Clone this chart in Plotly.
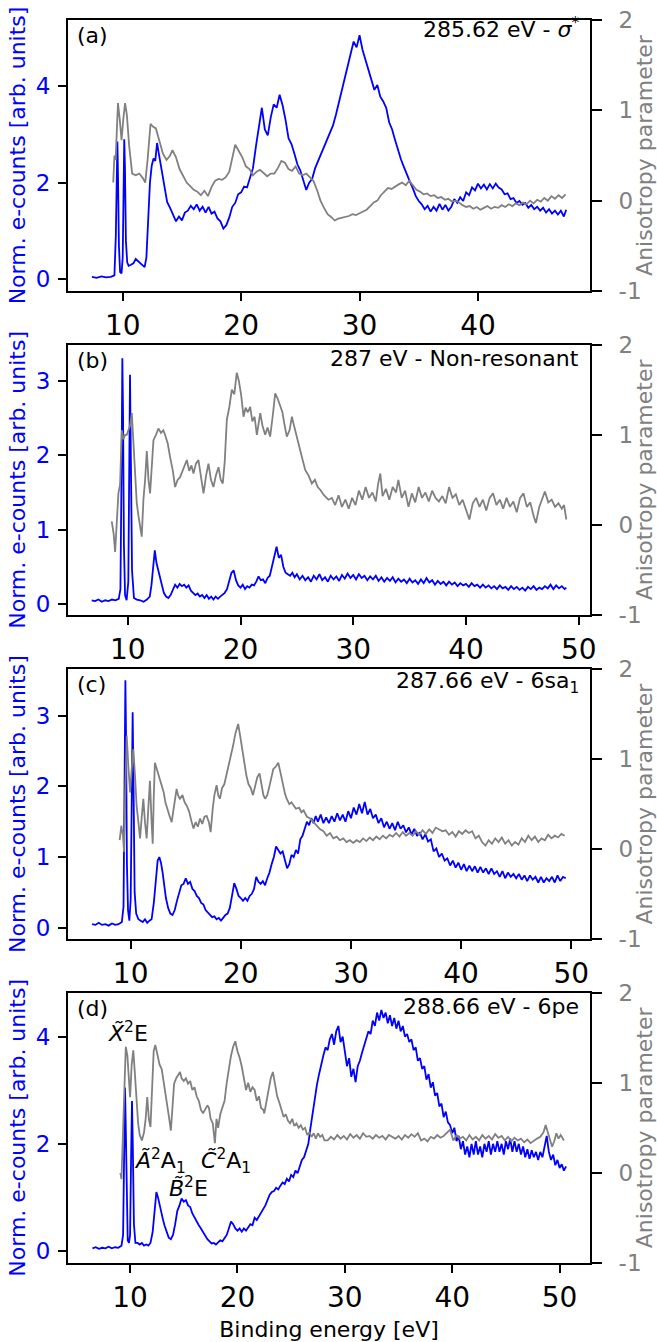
import plotly.graph_objects as go

# ---------------- data ----------------
# Panel (a) 285.62 eV
BA_X = [7.4, 7.8, 8.2, 8.6, 9.0, 9.3, 9.42, 9.5, 9.55, 9.6,
        9.68, 9.78, 9.9, 10.0, 10.07, 10.13, 10.19, 10.27, 10.38, 10.5,
        10.7, 10.9, 11.1, 11.3, 11.5, 11.7, 11.85, 12.0, 12.15, 12.3,
        12.45, 12.6, 12.75, 12.9, 13.05, 13.2, 13.35, 13.5, 13.75, 14.0,
        14.25, 14.5, 14.75, 15.0, 15.25, 15.5, 15.75, 16.0, 16.25, 16.5,
        16.75, 17.0, 17.25, 17.5, 17.75, 18.0, 18.25, 18.5, 18.75, 19.0,
        19.25, 19.5, 19.75, 20.0, 20.25, 20.5, 20.75, 21.0, 21.25, 21.5,
        21.75, 22.0, 22.25, 22.5, 22.75, 23.0, 23.25, 23.5, 23.75, 24.0,
        24.25, 24.5, 24.75, 25.0, 25.25, 25.5, 25.75, 26.0, 26.25, 26.5,
        26.75, 27.0, 27.25, 27.5, 27.75, 28.0, 28.25, 28.5, 28.75, 29.0,
        29.25, 29.5, 29.75, 30.0, 30.25, 30.5, 30.75, 31.0, 31.25, 31.5,
        31.75, 32.0, 32.25, 32.5, 32.75, 33.0, 33.25, 33.5, 33.75, 34.0,
        34.25, 34.5, 34.75, 35.0, 35.25, 35.5, 35.75, 36.0, 36.25, 36.5,
        36.75, 37.0, 37.25, 37.5, 37.75, 38.0, 38.25, 38.5, 38.75, 39.0,
        39.25, 39.5, 39.75, 40.0, 40.25, 40.5, 40.75, 41.0, 41.25, 41.5,
        41.75, 42.0, 42.25, 42.5, 42.75, 43.0, 43.25, 43.5, 43.75, 44.0,
        44.25, 44.5, 44.75, 45.0, 45.25, 45.5, 45.75, 46.0, 46.25, 46.5,
        46.75, 47.0, 47.25, 47.45]
BA_Y = [0.05, 0.03, 0.06, 0.04, 0.05, 0.08, 0.9, 2.4, 2.85, 2.2,
        0.7, 0.15, 0.12, 0.45, 2.2, 2.9, 2.3, 0.8, 0.35, 0.28,
        0.3, 0.33, 0.42, 0.37, 0.32, 0.28, 0.25, 0.45, 1.3, 2.0,
        2.35, 2.5, 2.45, 2.82, 2.6, 2.4, 2.2, 1.95, 1.6, 1.48,
        1.32, 1.2, 1.3, 1.22, 1.38, 1.42, 1.52, 1.45, 1.55, 1.42,
        1.5, 1.38, 1.5, 1.36, 1.4, 1.26, 1.2, 1.05, 1.12, 1.28,
        1.5, 1.58, 1.76, 1.8, 1.92, 1.9, 2.1, 2.3, 2.75, 3.2,
        3.55, 3.1, 2.98, 3.35, 3.62, 3.55, 3.82, 3.6, 3.3, 2.92,
        2.8, 2.6, 2.38, 2.25, 2.05, 1.85, 2.0, 2.08, 2.3, 2.45,
        2.6, 2.72, 2.9, 3.05, 3.18, 3.4, 3.65, 3.9, 4.2, 4.45,
        4.7, 4.92, 4.8, 5.05, 4.75, 4.55, 4.3, 4.1, 3.92, 4.02,
        3.78, 3.68, 3.55, 3.25, 3.1, 2.88, 2.65, 2.48, 2.32, 2.15,
        2.02, 1.88, 1.72, 1.62, 1.55, 1.45, 1.52, 1.4, 1.5, 1.42,
        1.56, 1.44, 1.54, 1.42, 1.5, 1.66, 1.58, 1.7, 1.62, 1.8,
        1.74, 1.9, 1.84, 1.98, 1.88, 1.96, 1.86, 1.97, 1.88, 1.98,
        1.9, 1.86, 1.76, 1.78, 1.66, 1.68, 1.58, 1.62, 1.54, 1.58,
        1.48, 1.54, 1.45, 1.5, 1.42, 1.48, 1.38, 1.45, 1.36, 1.42,
        1.34, 1.42, 1.3, 1.44]
GA_X = [9.2, 9.3, 9.4, 9.5, 9.6, 9.75, 9.9, 10.05, 10.2, 10.35,
        10.55, 10.8, 11.1, 11.4, 11.7, 11.9, 12.1, 12.35, 12.55, 12.8,
        13.1, 13.4, 13.7, 14.0, 14.2, 14.5, 14.8, 15.1, 15.4, 15.7,
        16.0, 16.3, 16.6, 16.9, 17.2, 17.5, 17.8, 18.1, 18.4, 18.7,
        19.0, 19.3, 19.5, 19.8, 20.1, 20.4, 20.7, 21.0, 21.3, 21.6,
        21.9, 22.2, 22.5, 22.8, 23.1, 23.4, 23.7, 24.0, 24.3, 24.6,
        24.9, 25.2, 25.5, 25.8, 26.1, 26.4, 26.7, 27.0, 27.3, 27.6,
        27.9, 28.2, 28.5, 28.8, 29.1, 29.4, 29.7, 30.0, 30.3, 30.6,
        30.9, 31.2, 31.5, 31.8, 32.1, 32.4, 32.7, 33.0, 33.3, 33.6,
        33.9, 34.2, 34.5, 34.8, 35.1, 35.4, 35.7, 36.0, 36.3, 36.6,
        36.9, 37.2, 37.5, 37.8, 38.1, 38.4, 38.7, 39.0, 39.3, 39.6,
        39.9, 40.2, 40.5, 40.8, 41.1, 41.4, 41.7, 42.0, 42.3, 42.6,
        42.9, 43.2, 43.5, 43.8, 44.1, 44.4, 44.7, 45.0, 45.3, 45.6,
        45.9, 46.2, 46.5, 46.8, 47.1, 47.4]
GA_Y = [0.2, 0.5, 0.45, 0.9, 1.08, 0.9, 0.67, 0.9, 1.08, 0.95,
        0.6, 0.3, 0.28, 0.3, 0.25, 0.2, 0.45, 0.85, 0.82, 0.8,
        0.65, 0.52, 0.45, 0.5, 0.56, 0.48, 0.35, 0.27, 0.2, 0.16,
        0.12, 0.1, 0.06, 0.11, 0.05, 0.15, 0.22, 0.24, 0.23, 0.26,
        0.32, 0.5, 0.62, 0.55, 0.48, 0.38, 0.35, 0.28, 0.32, 0.34,
        0.3, 0.27, 0.3, 0.3, 0.36, 0.44, 0.42, 0.35, 0.33, 0.38,
        0.3, 0.28, 0.3, 0.26, 0.22, 0.12, 0.0, -0.08, -0.15, -0.18,
        -0.22, -0.2, -0.19, -0.18, -0.17, -0.15, -0.16, -0.14, -0.12, -0.1,
        -0.06, -0.02, 0.0, 0.06, 0.1, 0.14, 0.13, 0.16, 0.18, 0.2,
        0.17, 0.22, 0.17, 0.12, 0.1, 0.07, 0.08, 0.05, 0.06, 0.03,
        0.04, 0.01, 0.02, -0.01, 0.0, -0.02, -0.05, -0.07, -0.06, -0.09,
        -0.07, -0.1, -0.08, -0.06, -0.09, -0.07, -0.08, -0.05, -0.07, -0.04,
        -0.06, -0.03, -0.05, -0.02, -0.04, 0.0, -0.03, 0.01, -0.01, 0.03,
        0.0, 0.05, 0.02, 0.06, 0.03, 0.07]

# Panel (b) 287 eV
BB_X = [6.8, 7.1, 7.4, 7.7, 8.0, 8.3, 8.6, 8.9, 9.2, 9.35,
        9.45, 9.52, 9.58, 9.66, 9.76, 9.9, 10.05, 10.13, 10.2, 10.28,
        10.38, 10.55, 10.8, 11.1, 11.4, 11.7, 11.95, 12.1, 12.25, 12.4,
        12.55, 12.7, 12.85, 13.0, 13.2, 13.4, 13.6, 13.8, 14.0, 14.2,
        14.4, 14.6, 14.8, 15.0, 15.2, 15.4, 15.6, 15.8, 16.0, 16.2,
        16.4, 16.6, 16.8, 17.0, 17.2, 17.4, 17.6, 17.8, 18.0, 18.2,
        18.4, 18.6, 18.8, 19.0, 19.2, 19.4, 19.6, 19.8, 20.0, 20.2,
        20.4, 20.6, 20.8, 21.0, 21.2, 21.4, 21.6, 21.8, 22.0, 22.2,
        22.4, 22.6, 22.8, 23.0, 23.2, 23.4, 23.6, 23.8, 24.0, 24.2,
        24.4, 24.6, 24.8, 25.0, 25.25, 25.5, 25.75, 26.0, 26.25, 26.5,
        26.75, 27.0, 27.25, 27.5, 27.75, 28.0, 28.25, 28.5, 28.75, 29.0,
        29.25, 29.5, 29.75, 30.0, 30.25, 30.5, 30.75, 31.0, 31.25, 31.5,
        31.75, 32.0, 32.25, 32.5, 32.75, 33.0, 33.25, 33.5, 33.75, 34.0,
        34.25, 34.5, 34.75, 35.0, 35.25, 35.5, 35.75, 36.0, 36.25, 36.5,
        36.75, 37.0, 37.25, 37.5, 37.75, 38.0, 38.25, 38.5, 38.75, 39.0,
        39.25, 39.5, 39.75, 40.0, 40.25, 40.5, 40.75, 41.0, 41.25, 41.5,
        41.75, 42.0, 42.25, 42.5, 42.75, 43.0, 43.25, 43.5, 43.75, 44.0,
        44.25, 44.5, 44.75, 45.0, 45.25, 45.5, 45.75, 46.0, 46.25, 46.5,
        46.75, 47.0, 47.25, 47.5, 47.75, 48.0, 48.25, 48.5, 48.75, 48.9]
BB_Y = [0.05, 0.04, 0.06, 0.03, 0.05, 0.04, 0.06, 0.05, 0.07, 0.2,
        1.8, 3.3, 2.6, 0.8, 0.12, 0.05, 0.3, 2.1, 3.08, 1.9,
        0.45, 0.08, 0.06, 0.05, 0.03, 0.06, 0.1, 0.25, 0.55, 0.72,
        0.55, 0.45, 0.35, 0.25, 0.15, 0.1, 0.08, 0.12, 0.2, 0.26,
        0.22, 0.27, 0.24, 0.26, 0.22, 0.25, 0.18, 0.15, 0.12, 0.14,
        0.1, 0.12, 0.08, 0.12, 0.07, 0.1, 0.06, 0.1, 0.07, 0.1,
        0.12, 0.15, 0.2, 0.3, 0.42, 0.45, 0.32, 0.25, 0.22, 0.26,
        0.2, 0.24, 0.22, 0.26, 0.25, 0.3, 0.37, 0.32, 0.33, 0.28,
        0.35, 0.38, 0.5, 0.62, 0.77, 0.62, 0.66, 0.5, 0.42, 0.4,
        0.38, 0.42, 0.36, 0.4, 0.33, 0.38, 0.32, 0.36, 0.3, 0.38,
        0.33, 0.4, 0.32, 0.36, 0.3, 0.38, 0.33, 0.37, 0.31, 0.39,
        0.34, 0.41, 0.35, 0.39, 0.33, 0.4, 0.35, 0.38, 0.32, 0.37,
        0.33, 0.38, 0.31, 0.36, 0.3, 0.35, 0.31, 0.36, 0.29, 0.34,
        0.3, 0.33, 0.28, 0.34, 0.29, 0.32, 0.27, 0.33, 0.28, 0.35,
        0.29, 0.32, 0.26, 0.31, 0.27, 0.3, 0.25, 0.3, 0.26, 0.29,
        0.24, 0.28, 0.25, 0.27, 0.23, 0.28, 0.24, 0.26, 0.22, 0.26,
        0.22, 0.25, 0.21, 0.24, 0.2, 0.25, 0.21, 0.23, 0.19, 0.24,
        0.2, 0.23, 0.19, 0.22, 0.18, 0.23, 0.2, 0.24, 0.19, 0.22,
        0.2, 0.24, 0.21, 0.26, 0.2, 0.25, 0.21, 0.24, 0.2, 0.22]
GB_X = [8.58, 8.75, 8.88, 9.03, 9.17, 9.32, 9.47, 9.62, 9.77, 9.91,
        10.05, 10.2, 10.36, 10.5, 10.65, 10.8, 10.95, 11.1, 11.24, 11.39,
        11.54, 11.69, 11.84, 11.98, 12.13, 12.28, 12.5, 12.72, 12.95, 13.15,
        13.31, 13.55, 13.76, 14.0, 14.2, 14.42, 14.64, 14.85, 15.05, 15.24,
        15.45, 15.65, 15.83, 16.05, 16.27, 16.5, 16.72, 16.95, 17.16, 17.38,
        17.6, 17.82, 18.05, 18.25, 18.43, 18.6, 18.79, 19.0, 19.23, 19.45,
        19.67, 19.85, 20.05, 20.27, 20.45, 20.65, 20.86, 21.05, 21.25, 21.45,
        21.6, 21.75, 21.95, 22.19, 22.4, 22.63, 22.85, 23.08, 23.3, 23.52,
        23.72, 23.92, 24.11, 24.35, 24.56, 24.75, 24.95, 25.15, 25.45, 25.74,
        26.03, 26.33, 26.6, 26.85, 27.07, 27.4, 27.8, 28.1, 28.4, 28.7,
        29.0, 29.3, 29.6, 29.9, 30.2, 30.5, 30.8, 31.1, 31.4, 31.7,
        32.0, 32.2, 32.4, 32.6, 32.9, 33.2, 33.5, 33.8, 34.0, 34.3,
        34.6, 34.9, 35.2, 35.5, 35.8, 36.1, 36.4, 36.7, 37.0, 37.3,
        37.6, 37.9, 38.2, 38.5, 38.8, 39.1, 39.4, 39.7, 40.0, 40.3,
        40.6, 40.9, 41.2, 41.5, 41.8, 42.1, 42.4, 42.7, 43.0, 43.3,
        43.6, 43.9, 44.2, 44.5, 44.8, 45.1, 45.4, 45.7, 46.0, 46.2,
        46.5, 46.8, 47.0, 47.3, 47.6, 47.9, 48.2, 48.5, 48.7, 48.9]
GB_Y = [0.04, -0.1, -0.3, 0.05, 0.35, 0.45, 1.05, 0.95, 1.0, 1.0,
        1.05, 1.1, 1.24, 0.94, 0.6, 0.24, 0.1, -0.05, -0.13, 0.28,
        0.5, 0.82, 0.5, 0.35, 0.6, 0.94, 1.0, 1.07, 1.02, 1.05,
        1.0, 0.9, 0.75, 0.6, 0.42, 0.5, 0.53, 0.6, 0.68, 0.72,
        0.6, 0.66, 0.57, 0.68, 0.72, 0.52, 0.35, 0.55, 0.68, 0.5,
        0.42, 0.55, 0.64, 0.5, 0.46, 0.7, 1.17, 1.3, 1.5, 1.45,
        1.69, 1.6, 1.45, 1.2, 1.3, 1.25, 1.31, 1.15, 1.2, 1.0,
        1.1, 1.24, 1.1, 1.0, 1.08, 0.98, 1.2, 1.46, 1.4, 1.31,
        1.25, 1.1, 0.98, 1.05, 1.2, 1.1, 1.0, 0.87, 0.75, 0.61,
        0.55, 0.46, 0.5, 0.42, 0.39, 0.33, 0.28, 0.3, 0.22, 0.33,
        0.2, 0.28, 0.18, 0.3, 0.22, 0.38, 0.28, 0.42, 0.3, 0.36,
        0.26, 0.45, 0.57, 0.32, 0.4, 0.28, 0.42, 0.36, 0.5, 0.3,
        0.38, 0.2, 0.35, 0.25, 0.42, 0.3, 0.36, 0.26, 0.38, 0.3,
        0.26, 0.32, 0.24, 0.42, 0.3, 0.34, 0.22, 0.28, 0.18, 0.06,
        0.24, 0.3, 0.2, 0.28, 0.16, 0.3, 0.35, 0.22, 0.28, 0.18,
        0.3, 0.2, 0.26, 0.14, 0.3, 0.35, 0.2, 0.25, 0.1, 0.02,
        0.2, 0.3, 0.37, 0.25, 0.28, 0.2, 0.24, 0.18, 0.22, 0.06]

# Panel (c) 287.66 eV
BC_X = [6.5, 6.8, 7.1, 7.4, 7.7, 8.0, 8.3, 8.6, 8.9, 9.2,
        9.35, 9.45, 9.52, 9.58, 9.66, 9.76, 9.88, 10.0, 10.1, 10.18,
        10.26, 10.36, 10.5, 10.7, 10.9, 11.1, 11.3, 11.5, 11.7, 11.9,
        12.1, 12.3, 12.45, 12.6, 12.75, 12.9, 13.05, 13.2, 13.4, 13.6,
        13.8, 14.0, 14.2, 14.4, 14.6, 14.8, 15.0, 15.2, 15.4, 15.6,
        15.8, 16.0, 16.2, 16.4, 16.6, 16.8, 17.0, 17.2, 17.4, 17.6,
        17.8, 18.0, 18.2, 18.4, 18.6, 18.8, 19.0, 19.2, 19.4, 19.6,
        19.8, 20.0, 20.2, 20.4, 20.6, 20.8, 21.0, 21.2, 21.4, 21.6,
        21.8, 22.0, 22.2, 22.4, 22.6, 22.8, 23.0, 23.2, 23.4, 23.6,
        23.8, 24.0, 24.2, 24.4, 24.6, 24.8, 25.0, 25.2, 25.4, 25.6,
        25.8, 26.0, 26.2, 26.4, 26.6, 26.8, 27.0, 27.25, 27.5, 27.75,
        28.0, 28.25, 28.5, 28.75, 29.0, 29.25, 29.5, 29.75, 30.0, 30.25,
        30.5, 30.75, 31.0, 31.25, 31.5, 31.75, 32.0, 32.25, 32.5, 32.75,
        33.0, 33.25, 33.5, 33.75, 34.0, 34.25, 34.5, 34.75, 35.0, 35.25,
        35.5, 35.75, 36.0, 36.25, 36.5, 36.75, 37.0, 37.25, 37.5, 37.75,
        38.0, 38.25, 38.5, 38.75, 39.0, 39.25, 39.5, 39.75, 40.0, 40.25,
        40.5, 40.75, 41.0, 41.25, 41.5, 41.75, 42.0, 42.25, 42.5, 42.75,
        43.0, 43.25, 43.5, 43.75, 44.0, 44.25, 44.5, 44.75, 45.0, 45.25,
        45.5, 45.75, 46.0, 46.25, 46.5, 46.75, 47.0, 47.25, 47.5, 47.75,
        48.0, 48.25, 48.5, 48.75, 49.0, 49.25, 49.5]
BC_Y = [0.05, 0.04, 0.07, 0.04, 0.05, 0.03, 0.06, 0.04, 0.05, 0.08,
        0.3, 2.0, 3.5, 2.7, 0.9, 0.25, 0.1, 0.4, 2.2, 3.05,
        2.0, 0.5, 0.2, 0.12, 0.1, 0.08, 0.12, 0.07, 0.1, 0.12,
        0.35, 0.75, 0.95, 1.0, 0.92, 0.78, 0.58, 0.42, 0.28, 0.2,
        0.18, 0.25, 0.38, 0.5, 0.6, 0.62, 0.7, 0.62, 0.65, 0.55,
        0.52, 0.45, 0.42, 0.35, 0.33, 0.25, 0.22, 0.18, 0.15, 0.16,
        0.12, 0.14, 0.1, 0.14, 0.18, 0.2, 0.28, 0.45, 0.63, 0.55,
        0.45, 0.42, 0.38, 0.42, 0.38, 0.45, 0.48, 0.55, 0.72, 0.65,
        0.62, 0.66, 0.6, 0.7, 0.78, 0.9, 1.0, 1.15, 1.1, 1.05,
        1.08, 0.95, 0.84, 0.9, 1.03, 1.0, 1.1, 1.05, 1.25, 1.3,
        1.4, 1.5, 1.45, 1.55, 1.48, 1.58, 1.5, 1.6, 1.48, 1.56,
        1.48, 1.58, 1.5, 1.62, 1.52, 1.6, 1.5, 1.65, 1.55, 1.7,
        1.6, 1.75, 1.62, 1.78, 1.6, 1.68, 1.55, 1.6, 1.48, 1.55,
        1.42, 1.5, 1.4, 1.48, 1.38, 1.5, 1.4, 1.45, 1.35, 1.42,
        1.32, 1.4, 1.3, 1.35, 1.25, 1.32, 1.22, 1.25, 1.08, 1.12,
        1.0, 1.05, 0.95, 0.98, 0.88, 0.95, 0.85, 0.92, 0.82, 0.9,
        0.8, 0.88, 0.8, 0.87, 0.78, 0.86, 0.78, 0.84, 0.76, 0.84,
        0.76, 0.8, 0.72, 0.8, 0.7, 0.78, 0.72, 0.76, 0.7, 0.76,
        0.68, 0.74, 0.66, 0.74, 0.68, 0.72, 0.64, 0.72, 0.64, 0.7,
        0.66, 0.72, 0.64, 0.74, 0.66, 0.72, 0.7]
GC_X = [9.0, 9.15, 9.3, 9.4, 9.5, 9.64, 9.8, 9.95, 10.1, 10.24,
        10.4, 10.54, 10.7, 10.85, 11.0, 11.15, 11.3, 11.45, 11.6, 11.75,
        11.9, 12.0, 12.1, 12.2, 12.4, 12.6, 12.8, 13.0, 13.15, 13.3,
        13.5, 13.72, 13.95, 14.17, 14.3, 14.47, 14.7, 14.9, 15.1, 15.3,
        15.5, 15.7, 15.9, 16.1, 16.3, 16.5, 16.7, 16.9, 17.1, 17.26,
        17.45, 17.6, 17.8, 17.95, 18.1, 18.3, 18.5, 18.7, 18.9, 19.1,
        19.3, 19.5, 19.76, 19.95, 20.15, 20.3, 20.5, 20.7, 20.9, 21.1,
        21.3, 21.5, 21.7, 21.9, 22.05, 22.2, 22.4, 22.6, 22.8, 22.95,
        23.2, 23.4, 23.6, 23.8, 24.0, 24.16, 24.4, 24.6, 24.8, 25.0,
        25.3, 25.5, 25.7, 26.0, 26.3, 26.6, 26.9, 27.2, 27.5, 27.8,
        28.1, 28.4, 28.7, 29.0, 29.3, 29.6, 29.9, 30.2, 30.5, 30.8,
        31.1, 31.4, 31.7, 32.0, 32.3, 32.6, 32.9, 33.2, 33.5, 33.8,
        34.1, 34.4, 34.7, 35.0, 35.3, 35.6, 35.9, 36.2, 36.5, 36.8,
        37.1, 37.4, 37.7, 38.0, 38.3, 38.6, 38.9, 39.2, 39.5, 39.8,
        40.1, 40.4, 40.7, 41.0, 41.3, 41.6, 41.9, 42.2, 42.5, 42.8,
        43.1, 43.4, 43.7, 44.0, 44.3, 44.6, 44.9, 45.2, 45.5, 45.8,
        46.1, 46.4, 46.7, 47.0, 47.3, 47.6, 47.9, 48.2, 48.5, 48.8,
        49.1, 49.4]
GC_Y = [0.1, 0.26, 0.15, -0.03, 0.6, 1.26, 0.9, 0.63, 0.9, 1.11,
        0.8, 0.48, 0.3, 0.12, 0.35, 0.56, 0.3, 0.12, 0.45, 0.76,
        0.3, 0.06, 0.6, 0.96, 0.88, 0.8, 0.72, 0.63, 0.52, 0.45,
        0.38, 0.3, 0.48, 0.67, 0.6, 0.56, 0.6, 0.52, 0.48, 0.42,
        0.32, 0.23, 0.3, 0.25, 0.34, 0.28, 0.36, 0.37, 0.3, 0.19,
        0.45, 0.6, 0.71, 0.6, 0.56, 0.68, 0.72, 0.82, 0.95, 1.05,
        1.15, 1.28, 1.39, 1.25, 1.08, 0.95, 0.82, 0.72, 0.68, 0.6,
        0.72, 0.8, 0.84, 0.7, 0.6, 0.56, 0.6, 0.7, 0.82, 0.89,
        0.92, 0.96, 0.85, 0.72, 0.62, 0.56, 0.5, 0.52, 0.48, 0.45,
        0.46, 0.41, 0.43, 0.36, 0.34, 0.3, 0.25, 0.22, 0.2, 0.15,
        0.18, 0.12, 0.14, 0.1, 0.12, 0.08, 0.1, 0.07, 0.1, 0.08,
        0.12, 0.09, 0.13, 0.1, 0.14, 0.11, 0.15, 0.12, 0.16, 0.14,
        0.18, 0.14, 0.19, 0.15, 0.18, 0.15, 0.2, 0.16, 0.21, 0.17,
        0.22, 0.18, 0.24, 0.22, 0.2, 0.21, 0.16, 0.19, 0.14, 0.2,
        0.17, 0.21, 0.18, 0.2, 0.12, 0.15, 0.08, 0.04, 0.1, 0.06,
        0.12, 0.08, 0.13, 0.06, 0.1, 0.04, 0.08, 0.05, 0.12, 0.08,
        0.15, 0.1, 0.14, 0.08, 0.12, 0.1, 0.16, 0.12, 0.15, 0.13,
        0.17, 0.15]

# Panel (d) 288.66 eV
BD_X = [6.5, 6.8, 7.1, 7.4, 7.7, 8.0, 8.3, 8.6, 8.9, 9.2,
        9.35, 9.45, 9.53, 9.6, 9.68, 9.78, 9.9, 10.0, 10.1, 10.18,
        10.26, 10.36, 10.5, 10.7, 10.9, 11.1, 11.3, 11.5, 11.7, 11.9,
        12.1, 12.3, 12.45, 12.6, 12.75, 12.9, 13.05, 13.2, 13.4, 13.6,
        13.8, 14.0, 14.2, 14.4, 14.6, 14.8, 15.0, 15.2, 15.4, 15.6,
        15.8, 16.0, 16.2, 16.4, 16.6, 16.8, 17.0, 17.2, 17.4, 17.6,
        17.8, 18.0, 18.2, 18.4, 18.6, 18.8, 19.0, 19.2, 19.4, 19.6,
        19.8, 20.0, 20.2, 20.4, 20.6, 20.8, 21.0, 21.2, 21.4, 21.6,
        21.8, 22.0, 22.2, 22.4, 22.6, 22.8, 23.0, 23.2, 23.4, 23.6,
        23.8, 24.0, 24.2, 24.4, 24.6, 24.8, 25.0, 25.2, 25.4, 25.6,
        25.8, 26.0, 26.2, 26.4, 26.6, 26.8, 27.0, 27.2, 27.4, 27.6,
        27.8, 28.0, 28.2, 28.4, 28.6, 28.8, 29.0, 29.2, 29.4, 29.6,
        29.8, 30.0, 30.2, 30.4, 30.6, 30.8, 31.0, 31.2, 31.4, 31.6,
        31.8, 32.0, 32.2, 32.4, 32.6, 32.8, 33.0, 33.2, 33.4, 33.6,
        33.8, 34.0, 34.2, 34.4, 34.6, 34.8, 35.0, 35.2, 35.4, 35.6,
        35.8, 36.0, 36.2, 36.4, 36.6, 36.8, 37.0, 37.2, 37.4, 37.6,
        37.8, 38.0, 38.2, 38.4, 38.6, 38.8, 39.0, 39.2, 39.4, 39.6,
        39.8, 40.0, 40.2, 40.4, 40.6, 40.8, 41.0, 41.2, 41.4, 41.6,
        41.8, 42.0, 42.2, 42.4, 42.6, 42.8, 43.0, 43.2, 43.4, 43.6,
        43.8, 44.0, 44.2, 44.4, 44.6, 44.8, 45.0, 45.2, 45.4, 45.6,
        45.8, 46.0, 46.2, 46.4, 46.6, 46.8, 47.0, 47.2, 47.4, 47.6,
        47.8, 48.0, 48.2, 48.4, 48.6, 48.8, 49.0, 49.2, 49.4, 49.6,
        49.8, 50.0, 50.2, 50.4, 50.6]
BD_Y = [0.05, 0.07, 0.04, 0.06, 0.05, 0.08, 0.05, 0.07, 0.06, 0.1,
        0.3, 1.6, 3.05, 2.3, 0.8, 0.2, 0.15, 0.3, 1.8, 2.8,
        1.9, 0.5, 0.15, 0.15, 0.12, 0.15, 0.1, 0.12, 0.1, 0.15,
        0.35, 0.85, 1.1, 1.0, 0.85, 0.72, 0.6, 0.48, 0.35, 0.25,
        0.22, 0.3, 0.5, 0.75, 0.85, 0.98, 0.92, 0.95, 0.85, 0.82,
        0.7, 0.62, 0.55, 0.48, 0.42, 0.35, 0.28, 0.22, 0.18, 0.14,
        0.15, 0.12, 0.16, 0.2, 0.18, 0.25, 0.3, 0.42, 0.55, 0.5,
        0.42, 0.38, 0.42, 0.36, 0.42, 0.38, 0.45, 0.5, 0.48, 0.62,
        0.58, 0.65, 0.7, 0.78, 0.85, 0.95, 1.05, 1.1, 1.12, 1.18,
        1.15, 1.22, 1.28, 1.25, 1.35, 1.3, 1.42, 1.38, 1.5, 1.45,
        1.6, 1.7, 1.75, 1.9, 2.0, 2.3, 2.6, 2.85, 3.1, 3.3,
        3.5, 3.65, 3.8, 3.75, 3.95, 4.05, 3.85, 4.1, 4.2, 3.9,
        4.0, 3.7, 3.45, 3.6, 3.25, 3.4, 3.15, 3.45, 3.55, 3.7,
        3.85, 3.95, 4.1, 4.05, 4.3, 4.2, 4.45, 4.3, 4.5, 4.35,
        4.45, 4.25, 4.4, 4.2, 4.35, 4.15, 4.3, 4.1, 4.2, 4.0,
        4.05, 3.9, 3.95, 3.75, 3.8, 3.55, 3.6, 3.4, 3.45, 3.2,
        3.3, 3.05, 3.15, 2.9, 2.95, 2.7, 2.75, 2.5, 2.6, 2.4,
        2.35, 2.2, 2.3, 2.05, 2.15, 1.9, 2.05, 1.8, 1.95, 1.75,
        2.0, 1.8, 2.05, 1.8, 1.95, 1.75, 2.0, 1.85, 2.05, 1.8,
        2.0, 1.85, 2.05, 1.85, 2.0, 1.8, 2.05, 1.9, 2.1, 1.85,
        2.05, 1.85, 2.0, 1.8, 1.95, 1.75, 1.9, 1.72, 1.88, 1.75,
        1.85, 1.7, 1.85, 1.75, 1.95, 2.15, 1.85, 1.7, 1.8, 1.6,
        1.7, 1.55, 1.62, 1.5, 1.58]
GD_X = [9.1, 9.2, 9.3, 9.45, 9.6, 9.75, 9.9, 10.0, 10.15, 10.3,
        10.45, 10.6, 10.75, 10.9, 11.1, 11.3, 11.45, 11.6, 11.75, 11.9,
        12.05, 12.2, 12.35, 12.55, 12.75, 12.95, 13.15, 13.35, 13.5, 13.65,
        13.8, 13.95, 14.1, 14.3, 14.5, 14.65, 14.8, 15.0, 15.2, 15.4,
        15.6, 15.8, 16.0, 16.2, 16.4, 16.6, 16.8, 17.0, 17.2, 17.35,
        17.5, 17.7, 17.9, 18.05, 18.2, 18.4, 18.6, 18.8, 19.0, 19.2,
        19.4, 19.6, 19.8, 20.0, 20.2, 20.4, 20.6, 20.8, 21.0, 21.2,
        21.4, 21.6, 21.8, 22.0, 22.2, 22.4, 22.5, 22.7, 22.9, 23.1,
        23.3, 23.5, 23.7, 23.9, 24.1, 24.3, 24.5, 24.7, 24.9, 25.1,
        25.3, 25.5, 25.7, 25.9, 26.1, 26.3, 26.5, 26.7, 26.9, 27.1,
        27.3, 27.5, 27.7, 27.9, 28.1, 28.4, 28.7, 29.0, 29.3, 29.6,
        29.9, 30.2, 30.5, 30.8, 31.1, 31.4, 31.7, 32.0, 32.3, 32.6,
        32.9, 33.2, 33.5, 33.8, 34.1, 34.4, 34.7, 35.0, 35.3, 35.6,
        35.9, 36.2, 36.5, 36.8, 37.1, 37.4, 37.7, 38.0, 38.3, 38.6,
        38.9, 39.2, 39.5, 39.8, 40.1, 40.4, 40.7, 41.0, 41.3, 41.6,
        41.9, 42.2, 42.5, 42.8, 43.1, 43.4, 43.7, 44.0, 44.3, 44.6,
        44.9, 45.2, 45.5, 45.8, 46.1, 46.4, 46.7, 47.0, 47.3, 47.6,
        47.9, 48.2, 48.5, 48.7, 48.9, 49.1, 49.3, 49.5, 49.7, 49.9,
        50.1, 50.4]
GD_Y = [0.0, -0.07, 0.3, 0.9, 1.4, 1.3, 1.0, 0.84, 1.2, 1.36,
        1.1, 0.8, 0.55, 0.42, 0.36, 0.45, 0.6, 0.84, 0.6, 0.51,
        0.9, 1.35, 1.42, 1.3, 1.2, 1.15, 1.0, 0.85, 0.75, 0.6,
        0.47, 0.75, 0.99, 1.05, 1.1, 1.12, 1.05, 1.02, 1.05, 0.99,
        1.02, 0.92, 0.95, 0.85, 0.8, 0.7, 0.66, 0.7, 0.75, 0.72,
        0.6, 0.55, 0.33, 0.6, 0.5, 0.65, 0.72, 0.8, 1.0, 1.18,
        1.3, 1.4, 1.46, 1.35, 1.28, 1.18, 1.05, 0.92, 1.0, 0.9,
        0.95, 0.92, 0.8, 0.85, 0.72, 0.7, 0.66, 0.8, 0.9, 1.05,
        1.12, 1.0, 0.85, 0.78, 0.7, 0.62, 0.65, 0.58, 0.55, 0.6,
        0.52, 0.55, 0.5, 0.53, 0.48, 0.5, 0.42, 0.45, 0.4, 0.44,
        0.38, 0.44, 0.4, 0.42, 0.36, 0.36, 0.4, 0.37, 0.42, 0.38,
        0.41, 0.37, 0.43, 0.39, 0.42, 0.38, 0.44, 0.4, 0.41, 0.38,
        0.42, 0.39, 0.41, 0.37, 0.42, 0.4, 0.38, 0.41, 0.37, 0.42,
        0.39, 0.43, 0.4, 0.44, 0.36, 0.38, 0.35, 0.4, 0.38, 0.42,
        0.39, 0.41, 0.44, 0.48, 0.36, 0.42, 0.38, 0.4, 0.36, 0.42,
        0.37, 0.4, 0.36, 0.42, 0.38, 0.41, 0.37, 0.43, 0.39, 0.41,
        0.36, 0.4, 0.35, 0.39, 0.36, 0.38, 0.34, 0.37, 0.33, 0.36,
        0.38, 0.4, 0.45, 0.53, 0.45, 0.35, 0.29, 0.35, 0.44, 0.38,
        0.42, 0.36]

PANEL_LETTERS = ["(a)", "(b)", "(c)", "(d)"]
PANEL_TITLES = ["285.62 eV - <i>σ</i><sup>*</sup>", "287 eV - Non-resonant",
                "287.66 eV - 6sa<sub>1</sub>", "288.66 eV - 6pe"]
TITLE_YSHIFT = [8, 1, 3, 1]
X_RANGES = [[5.38, 49.46], [4.70, 51.0], [4.31, 51.7], [4.22, 52.83]]
LEFT_RANGES = [[-0.242, 5.366], [-0.148, 3.484], [-0.164, 3.661], [-0.224, 4.822]]
LEFT_TICKS = [[0, 2, 4], [0, 1, 2, 3], [0, 1, 2, 3], [0, 2, 4]]
RIGHT_TICKS = [-1, 0, 1, 2]
RIGHT_TICKTEXT = ["-1", "0", "1", "2"]
DOMAINS = [[0.782, 1.0], [0.5213, 0.7388], [0.2604, 0.4779], [0.0, 0.2175]]

STATE_LABELS = ["<i>X̃</i><sup>2</sup>E", "<i>Ã</i><sup>2</sup>A<sub>1</sub>",
                "<i>B̃</i><sup>2</sup>E", "<i>C̃</i><sup>2</sup>A<sub>1</sub>"]
STATE_X = [9.8, 12.8, 15.4, 18.95]
STATE_Y = [4.09, 1.68, 1.19, 1.68]

BLUE = "#0000ff"
GRAY = "#808080"
FONT = "DejaVu Sans"

blue_series = [(BA_X, BA_Y), (BB_X, BB_Y), (BC_X, BC_Y), (BD_X, BD_Y)]
gray_series = [(GA_X, GA_Y), (GB_X, GB_Y), (GC_X, GC_Y), (GD_X, GD_Y)]

fig = go.Figure()
layout = {}
annotations = []

for i in range(4):
    xn = "x" if i == 0 else f"x{i + 1}"
    yl = f"y{2 * i + 1}" if i > 0 else "y"
    yr = f"y{2 * i + 2}"
    xkey = "xaxis" if i == 0 else f"xaxis{i + 1}"
    ylkey = "yaxis" if i == 0 else f"yaxis{2 * i + 1}"
    yrkey = f"yaxis{2 * i + 2}"

    bx, by = blue_series[i]
    gx, gy = gray_series[i]
    fig.add_trace(go.Scatter(x=bx, y=by, xaxis=xn, yaxis=yl, mode="lines",
                             line=dict(color=BLUE, width=1.8), showlegend=False))
    fig.add_trace(go.Scatter(x=gx, y=gy, xaxis=xn, yaxis=yr, mode="lines",
                             line=dict(color=GRAY, width=1.8), showlegend=False))

    layout[xkey] = dict(
        domain=[0, 1], anchor=yl, range=X_RANGES[i], automargin=False,
        tick0=0, dtick=10, ticks="outside", ticklen=8, tickwidth=1.5,
        tickcolor="black", showline=True, linecolor="black", linewidth=2,
        mirror=True, showgrid=False, zeroline=False,
        tickfont=dict(family=FONT, size=28, color="black"),
        title=dict(text="Binding energy [eV]" if i == 3 else "",
                   font=dict(family=FONT, size=22, color="black"), standoff=12),
    )
    layout[ylkey] = dict(
        domain=DOMAINS[i], anchor=xn, range=LEFT_RANGES[i], automargin=False,
        tickvals=LEFT_TICKS[i], ticks="outside", ticklen=8, tickwidth=1.5,
        tickcolor="black", showline=True, linecolor="black", linewidth=2,
        mirror=True, showgrid=False, zeroline=False,
        tickfont=dict(family=FONT, size=23, color=BLUE),
        ticklabelstandoff=3,
        title=dict(text="Norm. e-counts [arb. units]",
                   font=dict(family=FONT, size=22, color=BLUE), standoff=4),
    )
    layout[yrkey] = dict(
        anchor=xn, overlaying=yl, side="right", range=[-1, 2], automargin=False,
        tickvals=RIGHT_TICKS, ticktext=RIGHT_TICKTEXT, ticks="outside",
        ticklen=10, tickwidth=1.5, tickcolor="black", showline=True,
        linecolor="black", linewidth=2, showgrid=False, zeroline=False,
        tickfont=dict(family=FONT, size=23, color=GRAY),
        ticklabelstandoff=12,
        title=dict(text="Anisotropy parameter",
                   font=dict(family=FONT, size=22, color=GRAY), standoff=8),
    )

    annotations.append(dict(
        text=PANEL_LETTERS[i], xref=f"{xn} domain", yref=f"{yl} domain",
        x=0, y=1, xanchor="left", yanchor="top", xshift=7, yshift=-1,
        showarrow=False, font=dict(family=FONT, size=22, color="black")))
    annotations.append(dict(
        text=PANEL_TITLES[i], xref=f"{xn} domain", yref=f"{yl} domain",
        x=1, y=1, xanchor="right", yanchor="top", xshift=-9,
        yshift=TITLE_YSHIFT[i],
        showarrow=False, font=dict(family=FONT, size=22, color="black")))

for txt, sx, sy in zip(STATE_LABELS, STATE_X, STATE_Y):
    annotations.append(dict(
        text=txt, xref="x4", yref="y7", x=sx, y=sy, xanchor="center",
        yanchor="middle", showarrow=False,
        font=dict(family=FONT, size=22, color="black")))

fig.update_layout(
    width=657, height=1342,
    margin=dict(l=68, r=67, t=20, b=79, autoexpand=False),
    paper_bgcolor="white", plot_bgcolor="white",
    font=dict(family=FONT, size=22, color="black"),
    showlegend=False,
    annotations=annotations,
    **layout,
)

fig.write_html("out.html", config={"displayModeBar": False})
